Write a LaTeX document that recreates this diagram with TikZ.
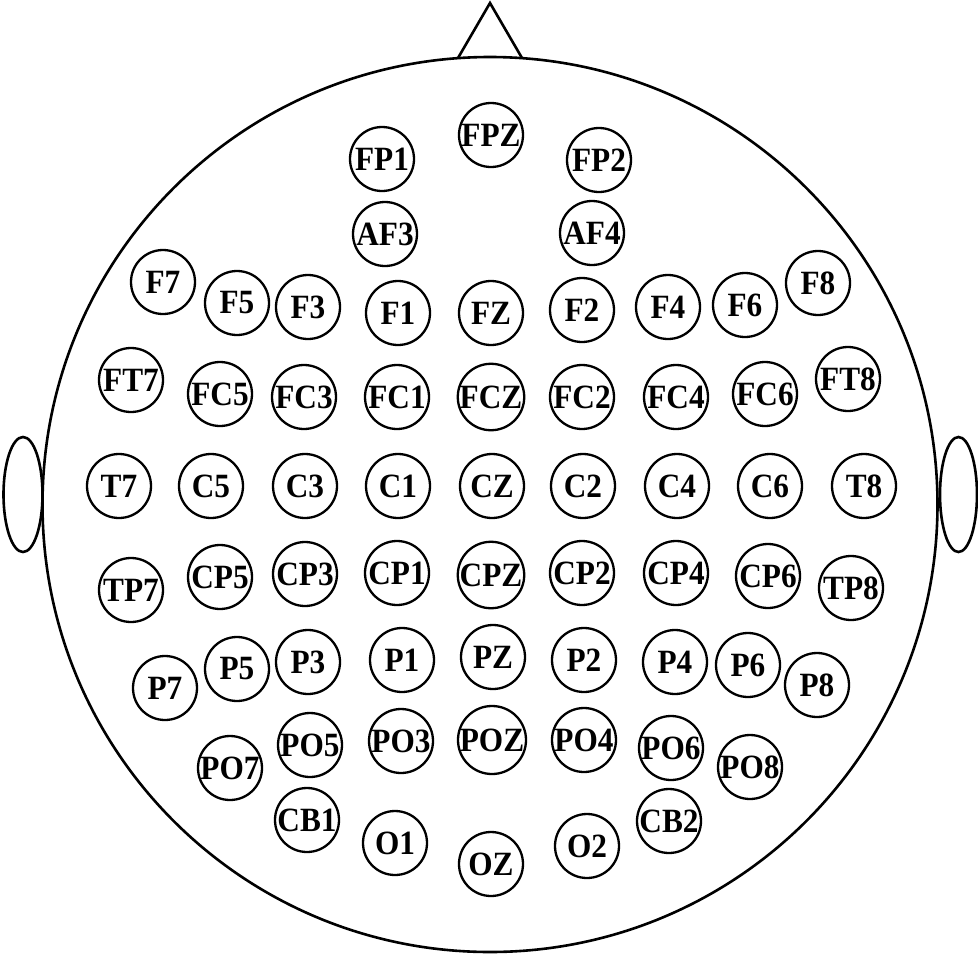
\documentclass[tikz,border=0pt]{standalone}
\usepackage{fontspec}
\setmainfont{Liberation Serif}
\newfontfamily\elecfont[FakeStretch=0.92]{Liberation Serif Bold}
\begin{document}
\begin{tikzpicture}[x=1pt,y=-1pt,
  headline/.style={line width=2.6pt},
  elec/.style={draw, line width=2.3pt, circle, inner sep=0pt, minimum size=64pt,
    font=\elecfont\fontsize{34}{34}\selectfont}]
\useasboundingbox (0,0) rectangle (978,954);
% head
\draw[headline] (490,504.5) circle (447.5);
\draw[headline] (458,58) -- (490,3) -- (522,58);
\draw[headline] (23,494.5) ellipse (19.5 and 57.5);
\draw[headline] (958.5,494.5) ellipse (18.5 and 57.5);
% electrodes
\foreach \n/\x/\y in {
 FPZ/491/135, FP1/382/159, FP2/599/160, AF3/385/234, AF4/592/233,
 F7/163/282, F5/237/303, F3/308/307, F1/398/313, FZ/491/313, F2/582/310, F4/668/307, F6/745/305, F8/818/283,
 FT7/131/380, FC5/220/394, FC3/304/397, FC1/397/397, FCZ/491/397, FC2/582/397, FC4/676/397, FC6/765/394, FT8/848/379,
 T7/119/486, C5/211/486, C3/305/486, C1/398/486, CZ/492/486, C2/583/486, C4/677/486, C6/770/486, T8/864/486,
 TP7/131/590, CP5/220/577, CP3/305/574, CP1/397/573, CPZ/491/575, CP2/582/573, CP4/676/573, CP6/768/576, TP8/851/588,
 P7/165/688, P5/237/669, P3/308/662, P1/402/660, PZ/493/657, P2/584/660, P4/675/662, P6/748/665, P8/817/685,
 PO7/230/768, PO5/310/745, PO3/401/741, POZ/492/740, PO4/584/740, PO6/671/748, PO8/750/767,
 CB1/307/820, O1/395/843, OZ/491/864, O2/587/846, CB2/669/821}
 \node[elec] (\n) at (\x,\y) {\n};
\end{tikzpicture}
\end{document}
